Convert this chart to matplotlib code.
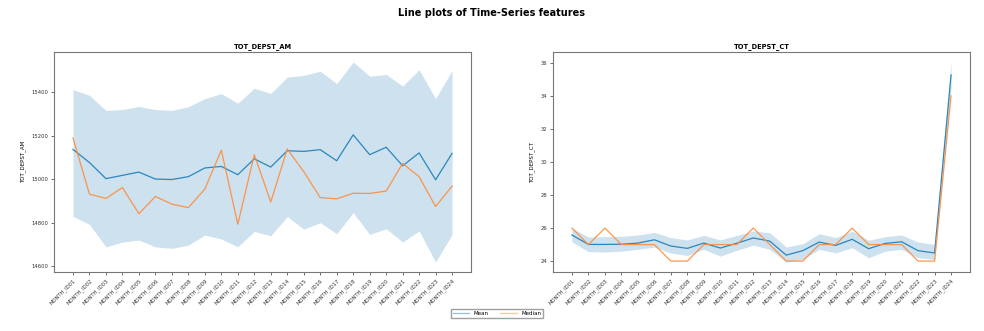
import matplotlib
matplotlib.use("Agg")
import matplotlib.pyplot as plt
import numpy as np

months = [f"MONTH_ID{i:02d}" for i in range(1, 25)]

# TOT_DEPST_AM
am_mean = [15137, 15077, 15003, 15018, 15033, 15001, 14999, 15012, 15052, 15059, 15021, 15094,
           15056, 15131, 15128, 15136, 15085, 15204, 15113, 15147, 15062, 15121, 14998, 15119]
am_median = [15190, 14932, 14912, 14962, 14842, 14921, 14886, 14870, 14955, 15134, 14794, 15113,
             14896, 15139, 15035, 14916, 14910, 14936, 14935, 14946, 15073, 15012, 14875, 14969]
am_upper = [15412, 15385, 15316, 15320, 15334, 15320, 15316, 15333, 15370, 15393, 15349, 15418,
            15394, 15469, 15477, 15496, 15439, 15538, 15473, 15481, 15428, 15503, 15370, 15500]
am_lower = [14830, 14793, 14690, 14712, 14721, 14690, 14683, 14698, 14744, 14726, 14690, 14761,
            14741, 14829, 14771, 14801, 14750, 14847, 14747, 14773, 14712, 14763, 14620, 14747]

# TOT_DEPST_CT
ct_mean = [25.58, 25.01, 25.01, 25.02, 25.09, 25.29, 24.91, 24.77, 25.09, 24.79, 25.08, 25.40,
           25.21, 24.36, 24.63, 25.15, 24.95, 25.32, 24.75, 25.07, 25.17, 24.63, 24.49, 35.27]
ct_median = [26, 25, 26, 25, 25, 25, 24, 24, 25, 25, 25, 26,
             25, 24, 24, 25, 25, 26, 25, 25, 25, 24, 24, 34]
ct_upper = [26.00, 25.46, 25.48, 25.50, 25.58, 25.74, 25.42, 25.28, 25.56, 25.28, 25.56, 25.82,
            25.72, 24.85, 25.05, 25.66, 25.42, 25.82, 25.26, 25.48, 25.58, 25.15, 25.01, 36.05]
ct_lower = [25.17, 24.57, 24.55, 24.60, 24.71, 24.85, 24.49, 24.34, 24.71, 24.30, 24.65, 24.97,
            24.71, 23.94, 24.10, 24.71, 24.50, 24.81, 24.20, 24.60, 24.71, 24.20, 24.10, 34.45]

features = [
    ("TOT_DEPST_AM", am_mean, am_median, am_lower, am_upper),
    ("TOT_DEPST_CT", ct_mean, ct_median, ct_lower, ct_upper),
]

fig = plt.figure(figsize=(9.84, 3.31), dpi=100)
fig.suptitle("Line plots of Time-Series features", fontsize=7, fontweight="bold", y=0.975)

positions = [[0.0549, 0.178, 0.4238, 0.6647], [0.562, 0.178, 0.4238, 0.6647]]
x = np.arange(len(months))

for pos, (name, mean, median, lower, upper) in zip(positions, features):
    ax = fig.add_axes(pos)
    ax.fill_between(x, lower, upper, color="#1f77b4", alpha=0.22, linewidth=0)
    ax.plot(x, mean, color="#2b87bf", linewidth=0.9, label="Mean")
    ax.plot(x, median, color="#ff8c3a", linewidth=0.9, alpha=0.9, label="Median")
    ax.set_title(name, fontsize=4.8, fontweight="bold", pad=3)
    ax.set_ylabel(name, fontsize=4)
    ax.set_xticks(x)
    ax.set_xticklabels(months, rotation=45, ha="right", rotation_mode="anchor")
    ax.tick_params(axis="both", labelsize=3.8, length=2.5, width=0.5, pad=1.5, colors="#333333")
    for sp in ax.spines.values():
        sp.set_linewidth(0.8)
        sp.set_color("#777777")
    handles, labels = ax.get_legend_handles_labels()

leg = fig.legend(handles, labels, loc="lower center", ncol=2, fontsize=4,
                 bbox_to_anchor=(0.505, 0.03), frameon=True, fancybox=False,
                 edgecolor="#888888", handlelength=3)
for line in leg.get_lines():
    line.set_alpha(0.5)

fig.savefig("out.png", dpi=100)
